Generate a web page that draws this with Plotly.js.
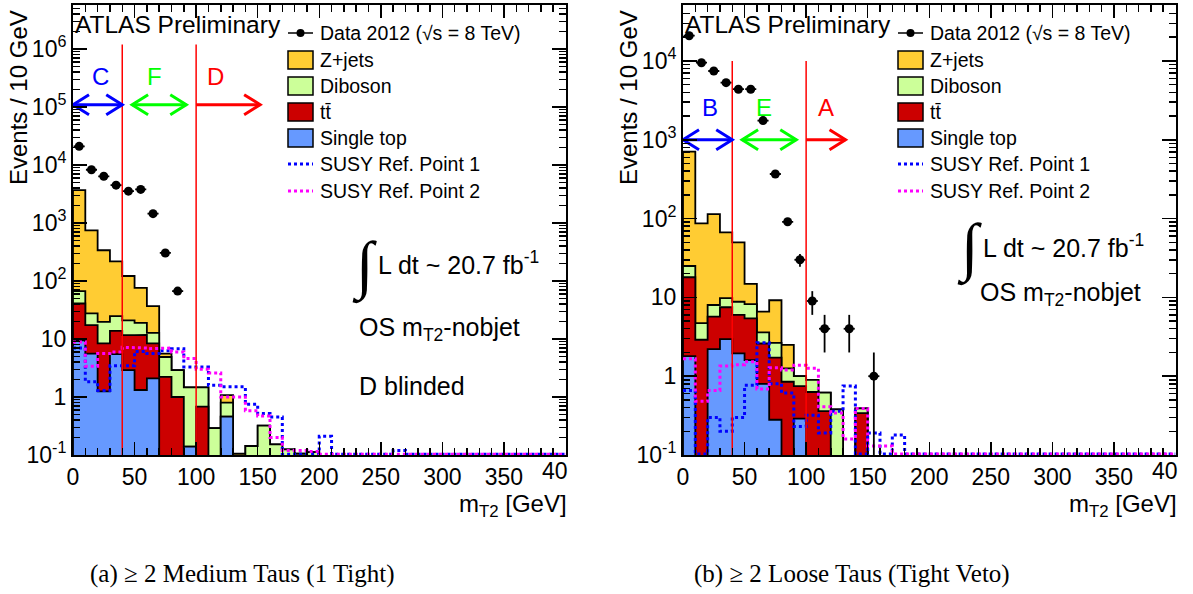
<!DOCTYPE html>
<html>
<head>
<meta charset="utf-8">
<script src="https://cdn.plot.ly/plotly-3.0.1.min.js"></script>
<style>
  html, body { margin: 0; padding: 0; background: #ffffff; }
  #chart { width: 1193px; height: 594px; }
</style>
</head>
<body>
<div id="chart"></div>
<script>
// ---- binning -------------------------------------------------------------
const BIN_WIDTH = 10;      // GeV
const N_BINS = 40;
const X_MAX = 400;

// ---- (a) >= 2 medium taus (1 tight): events / 10 GeV per bin --------------
const aData      = [21000, 8300, 6400, 4500, 3550, 3800, 1450, 305, 67];
const aZjets     = [3633, 722, 320, 194, 101, 57, 24, 0.7, 0, 0, 0, 0, 0.28, 0.105];
const aDiboson   = [26, 10.3, 11.4, 11, 9.3, 7.3, 4.4, 2.67, 1.9, 1.33, 0.79, 0.29, 0.34, 0, 0.143, 0.32, 0.153, 0.125, 0.105, 0.112];
const aTtbar     = [31.5, 11.7, 7.15, 8.3, 8.8, 10.4, 6.3, 2.23, 1.0, 0, 0.68, 0, 0];
const aSingleTop = [9.5, 5.6, 1.25, 5.5, 2.9, 1.32, 2.1, 0, 0, 0.14, 0, 0, 0.46];
const aSusy1     = [7.0, 1.83, 1.3, 3.45, 3.45, 6.1, 5.6, 6.3, 6.8, 3.3, 3.3, 1.6, 1.5, 1.5, 0.75, 0.52, 0.45, 0, 0, 0, 0.21, 0, 0, 0, 0, 0, 0.12];
const aSusy2     = [8.9, 3.4, 5.6, 6.0, 7.2, 7.0, 6.8, 7.0, 6.0, 4.6, 3.0, 2.6, 1.0, 1.0, 0.58, 0.47, 0.2, 0.12, 0.12, 0.115];

// ---- (b) >= 2 loose taus (tight veto) -------------------------------------
const bData      = [20900, 9500, 7460, 5300, 4380, 4380, 1750, 368, 91, 30, 9, 4, 0, 4, 0, 1];
const bZjets     = [681, 82.3, 106, 57.2, 41.2, 6.6, 3.0, 6.55, 1.24, 0, 0, 0, 0, 0, 0];
const bDiboson   = [7, 1.8, 2.3, 2.3, 2.8, 2.8, 1.0, 0.93, 0.41, 0.25, 0.27, 0.26, 0.38, 0, 0.05];
const bTtbar     = [16.2, 2.9, 3.5, 4.55, 4.05, 3.8, 1.8, 1.44, 0.85, 0.46, 0.63, 0.36, 0, 0, 0.34];
const bSingleTop = [1.8, 0, 2.2, 2.95, 1.95, 1.6, 0.8, 0.28, 0, 0.29];
const bSusy1     = [0.66, 0, 0.3, 0.2, 0.3, 0.77, 2.65, 0.8, 0.61, 0.23, 0.32, 0.19, 0.36, 0.75, 0, 0.19, 0, 0.18];
const bSusy2     = [1.66, 0.48, 0.66, 1.35, 1.4, 1.52, 0.69, 1.28, 1.2, 1.38, 1.26, 0.41, 0.34, 0.16, 0.39, 0.13, 0.13];

// ---- axis ticks and labels --------------------------------------------------
const xTickVals = [0, 50, 100, 150, 200, 250, 300, 350];
const xTickText = ['0', '50', '100', '150', '200', '250', '300', '350'];
const aYTickVals = [0.1, 1, 10, 100, 1e3, 1e4, 1e5, 1e6];
const aYTickText = ['10<sup>-1</sup>', '1', '10', '10<sup>2</sup>', '10<sup>3</sup>', '10<sup>4</sup>', '10<sup>5</sup>', '10<sup>6</sup>'];
const bYTickVals = [0.1, 1, 10, 100, 1e3, 1e4];
const bYTickText = ['10<sup>-1</sup>', '1', '10', '10<sup>2</sup>', '10<sup>3</sup>', '10<sup>4</sup>'];

const legendLabels = ['Data 2012 (\u221As = 8 TeV)', 'Z+jets', 'Diboson', 'tt\u0304', 'Single top', 'SUSY Ref. Point 1', 'SUSY Ref. Point 2'];
const regionCuts = [40, 100];
const aRegionNames = ['C', 'F', 'D'];
const bRegionNames = ['B', 'E', 'A'];
const captions = ['(a) \u2265 2 Medium Taus (1 Tight)', '(b) \u2265 2 Loose Taus (Tight Veto)'];

// ---- styling -------------------------------------------------------------
const FONT = 'Liberation Sans, Arial, Helvetica, sans-serif';
const SERIF = 'Liberation Serif, DejaVu Serif, serif';
const C_ZJ = '#FFCC33', C_DB = '#CCFF99', C_TT = '#CC0000', C_ST = '#6699FF';
const C_S1 = '#0000FF', C_S2 = '#FF00FF';
const W = 1193, H = 594;
const FILL_FLOOR = 1e-4;     // polygon base, below the visible range
const LINE_FLOOR = 0.103;    // empty bins of the signal curves sit on the frame

// panel geometry in pixels
const panels = [
  { x0: 73,  x1: 565.5,  yTop: 5, yBot: 455, logRange: [-1, 6.76], xa: 'x',  ya: 'y',
    lineTop: 1.2e6, arrowY: 1.1e5, labelY: 3.3e5, names: aRegionNames,
    arrows: [[0, 40], [48, 92], [100, 152]] },
  { x0: 683, x1: 1175.5, yTop: 5, yBot: 455, logRange: [-1, 4.71], xa: 'x2', ya: 'y2',
    lineTop: 1.0e4, arrowY: 1.0e3, labelY: 2.6e3, names: bRegionNames,
    arrows: [[0, 40], [48, 92], [100, 132]] }
];
const regionLabelX = [22, 66, 116];

const PX = px => px / W;
const PY = py => 1 - py / H;

const pad = a => Array.from({ length: N_BINS }, (_, i) => a[i] || 0);

function cumulate(layers) {            // bottom to top
  let run = new Array(N_BINS).fill(0);
  return layers.map(l => { const p = pad(l); run = run.map((v, i) => v + p[i]); return run.slice(); });
}

function stepPolygon(vals) {
  const xs = [0], ys = [FILL_FLOOR];
  vals.forEach((v, i) => {
    const y = v > 0 ? v : FILL_FLOOR;
    xs.push(i * BIN_WIDTH, (i + 1) * BIN_WIDTH); ys.push(y, y);
  });
  xs.push(X_MAX); ys.push(FILL_FLOOR);
  return { xs, ys };
}

function stepLine(vals) {
  const xs = [], ys = [];
  pad(vals).forEach((v, i) => {
    const y = v > 0 ? v : LINE_FLOOR;
    xs.push(i * BIN_WIDTH, (i + 1) * BIN_WIDTH); ys.push(y, y);
  });
  return { xs, ys };
}

const traces = [];
const shapes = [];
const annotations = [];

function txt(px, py, text, size, opts) {
  return Object.assign({ xref: 'paper', yref: 'paper', x: PX(px), y: PY(py), text, showarrow: false,
    xanchor: 'left', yanchor: 'middle', font: { family: FONT, size, color: '#000000' } }, opts || {});
}

function addPanel(p, d, idx) {
  const [st, tt, db, zj] = cumulate([d.singleTop, d.ttbar, d.diboson, d.zjets]);
  // stacked backgrounds, drawn from the full stack down to the bottom layer
  [[zj, C_ZJ], [db, C_DB], [tt, C_TT], [st, C_ST]].forEach(([vals, col]) => {
    const s = stepPolygon(vals);
    traces.push({ type: 'scatter', mode: 'lines', x: s.xs, y: s.ys, xaxis: p.xa, yaxis: p.ya,
      fill: 'toself', fillcolor: col, line: { color: '#000000', width: 1.8 }, hoverinfo: 'skip' });
  });
  // signal reference points
  [[d.susy1, C_S1], [d.susy2, C_S2]].forEach(([vals, col]) => {
    const s = stepLine(vals);
    traces.push({ type: 'scatter', mode: 'lines', x: s.xs, y: s.ys, xaxis: p.xa, yaxis: p.ya,
      line: { color: col, width: 3, dash: 'dot' }, hoverinfo: 'skip' });
  });
  // data
  const dx = [], dy = [], de = [];
  d.data.forEach((v, i) => { if (v > 0) { dx.push((i + 0.5) * BIN_WIDTH); dy.push(v); de.push(Math.sqrt(v)); } });
  traces.push({ type: 'scatter', mode: 'markers', x: dx, y: dy, xaxis: p.xa, yaxis: p.ya,
    marker: { color: '#000000', size: 9 },
    error_y: { type: 'data', array: de, color: '#000000', thickness: 1.8, width: 0 },
    error_x: { type: 'constant', value: 4.5, color: '#000000', thickness: 1.8, width: 0 },
    hoverinfo: 'skip' });

  // region boundaries
  const floorY = Math.pow(10, p.logRange[0]);
  traces.push({ type: 'scatter', mode: 'lines', xaxis: p.xa, yaxis: p.ya, hoverinfo: 'skip',
    x: [regionCuts[0], regionCuts[0], null, regionCuts[1], regionCuts[1]],
    y: [floorY, p.lineTop, null, floorY, p.lineTop],
    line: { color: '#FF0000', width: 1.5 } });

  // region arrows (open heads)
  const pxPerGeV = (p.x1 - p.x0) / X_MAX;
  const pxPerDec = (p.yBot - p.yTop) / (p.logRange[1] - p.logRange[0]);
  const headX = 16 / pxPerGeV, headF = Math.pow(10, 10 / pxPerDec);
  const arrowCols = ['#0000FF', '#00FF00', '#FF0000'];
  p.arrows.forEach(([a, b], k) => {
    const y = p.arrowY;
    const xs = [a, b, null, b - headX, b, b - headX];
    const ys = [y, y, null, y * headF, y, y / headF];
    if (k < 2) { xs.push(null, a + headX, a, a + headX); ys.push(null, y * headF, y, y / headF); }
    traces.push({ type: 'scatter', mode: 'lines', x: xs, y: ys, xaxis: p.xa, yaxis: p.ya,
      line: { color: arrowCols[k], width: 3 }, hoverinfo: 'skip' });
    annotations.push({ xref: p.xa, yref: p.ya, x: regionLabelX[k], y: Math.log10(p.labelY),
      text: p.names[k], showarrow: false, xanchor: 'center', yanchor: 'middle',
      font: { family: FONT, size: 24, color: arrowCols[k] } });
  });

  // legend
  const off = p.x0 - panels[0].x0;
  const rows = [33, 60, 86, 112, 138, 164, 191];
  const bx0 = 288 + off, bx1 = 313 + off;
  shapes.push({ type: 'line', xref: 'paper', yref: 'paper', x0: PX(bx0), x1: PX(bx1), y0: PY(rows[0]), y1: PY(rows[0]),
    line: { color: '#000000', width: 1.5 } });
  shapes.push({ type: 'circle', xref: 'paper', yref: 'paper', x0: PX(bx0 + 8.5), x1: PX(bx1 - 8.5),
    y0: PY(rows[0] - 4), y1: PY(rows[0] + 4), fillcolor: '#000000', line: { width: 0 } });
  [C_ZJ, C_DB, C_TT, C_ST].forEach((col, k) => {
    const r = rows[k + 1];
    shapes.push({ type: 'rect', xref: 'paper', yref: 'paper', x0: PX(bx0), x1: PX(bx1), y0: PY(r - 9), y1: PY(r + 9),
      fillcolor: col, line: { color: '#000000', width: 1.5 } });
  });
  [C_S1, C_S2].forEach((col, k) => {
    const r = rows[k + 5];
    shapes.push({ type: 'line', xref: 'paper', yref: 'paper', x0: PX(bx0), x1: PX(bx1), y0: PY(r), y1: PY(r),
      line: { color: col, width: 3, dash: 'dot' } });
  });
  legendLabels.forEach((t, k) => annotations.push(txt(318 + off, rows[k], t, 19.5)));

  // labels inside the frame
  annotations.push(txt(73 + off, 25, 'ATLAS Preliminary', 24.5));
  const lumiY = idx === 0 ? 263 : 246;
  const lumiX = idx === 0 ? 376 : 981 - off;
  annotations.push(txt(lumiX - 12 + off, lumiY + 3, '\u222B', 64,
    { xanchor: 'center', font: { family: SERIF, size: 64, color: '#000000' } }));
  annotations.push(txt(lumiX + off, lumiY, 'L dt ~ 20.7 fb<sup>-1</sup>', 25));
  annotations.push(txt(idx === 0 ? 357 : 978, idx === 0 ? 329 : 294, 'OS m<sub>T2</sub>-nobjet', 25));
  if (idx === 0) annotations.push(txt(357, 386, 'D blinded', 25));

  // axis titles
  annotations.push(txt(18 + off, 98, 'Events / 10 GeV', 24, { xanchor: 'center', textangle: -90 }));
  annotations.push(txt(569 + off, 505, 'm<sub>T2</sub> [GeV]', 24, { xanchor: 'right' }));
  // last x label, cut by the pad edge
  annotations.push(txt(570 + off, 471, '40', 23, { xanchor: 'right' }));
  // caption
  annotations.push(txt(idx === 0 ? 88 : 692, 574, captions[idx], 25,
    { font: { family: SERIF, size: 25, color: '#000000' } }));
}

addPanel(panels[0], { data: aData, zjets: aZjets, diboson: aDiboson, ttbar: aTtbar, singleTop: aSingleTop, susy1: aSusy1, susy2: aSusy2 }, 0);
addPanel(panels[1], { data: bData, zjets: bZjets, diboson: bDiboson, ttbar: bTtbar, singleTop: bSingleTop, susy1: bSusy1, susy2: bSusy2 }, 1);

const xMinor = [];
for (let v = BIN_WIDTH; v < X_MAX; v += BIN_WIDTH) if (v % 50 !== 0) xMinor.push(v);
function yMinor(range) {
  const out = [];
  for (let e = Math.floor(range[0]); e <= Math.ceil(range[1]); e++)
    for (let m = 2; m <= 9; m++) out.push(m * Math.pow(10, e));
  return out;
}

function xAxis(p) {
  return {
    domain: [PX(p.x0), PX(p.x1)], anchor: p.ya, range: [0, X_MAX],
    showline: true, linecolor: '#000000', linewidth: 2, mirror: 'allticks',
    ticks: 'inside', ticklen: 13, tickwidth: 1.5, tickcolor: '#000000',
    tickmode: 'array', tickvals: xTickVals, ticktext: xTickText,
    tickfont: { family: FONT, size: 23, color: '#000000' },
    minor: { tickmode: 'array', tickvals: xMinor, ticks: 'inside', ticklen: 7, tickwidth: 1.5, tickcolor: '#000000' },
    showgrid: false, zeroline: false, fixedrange: true, automargin: false
  };
}
function yAxis(p, tv, tt) {
  return {
    domain: [PY(p.yBot), PY(p.yTop)], anchor: p.xa, type: 'log', range: p.logRange,
    showline: true, linecolor: '#000000', linewidth: 2, mirror: 'allticks',
    ticks: 'inside', ticklen: 14, tickwidth: 1.5, tickcolor: '#000000',
    tickmode: 'array', tickvals: tv, ticktext: tt,
    tickfont: { family: FONT, size: 23, color: '#000000' },
    minor: { tickmode: 'array', tickvals: yMinor(p.logRange), ticks: 'inside', ticklen: 7, tickwidth: 1.5, tickcolor: '#000000' },
    showgrid: false, zeroline: false, fixedrange: true, automargin: false
  };
}

const layout = {
  width: W, height: H,
  margin: { l: 0, r: 0, t: 0, b: 0 },
  paper_bgcolor: '#ffffff', plot_bgcolor: '#ffffff',
  showlegend: false,
  xaxis: xAxis(panels[0]), yaxis: yAxis(panels[0], aYTickVals, aYTickText),
  xaxis2: xAxis(panels[1]), yaxis2: yAxis(panels[1], bYTickVals, bYTickText),
  shapes, annotations
};

Plotly.newPlot('chart', traces, layout, { staticPlot: true, displayModeBar: false });
</script>
</body>
</html>
